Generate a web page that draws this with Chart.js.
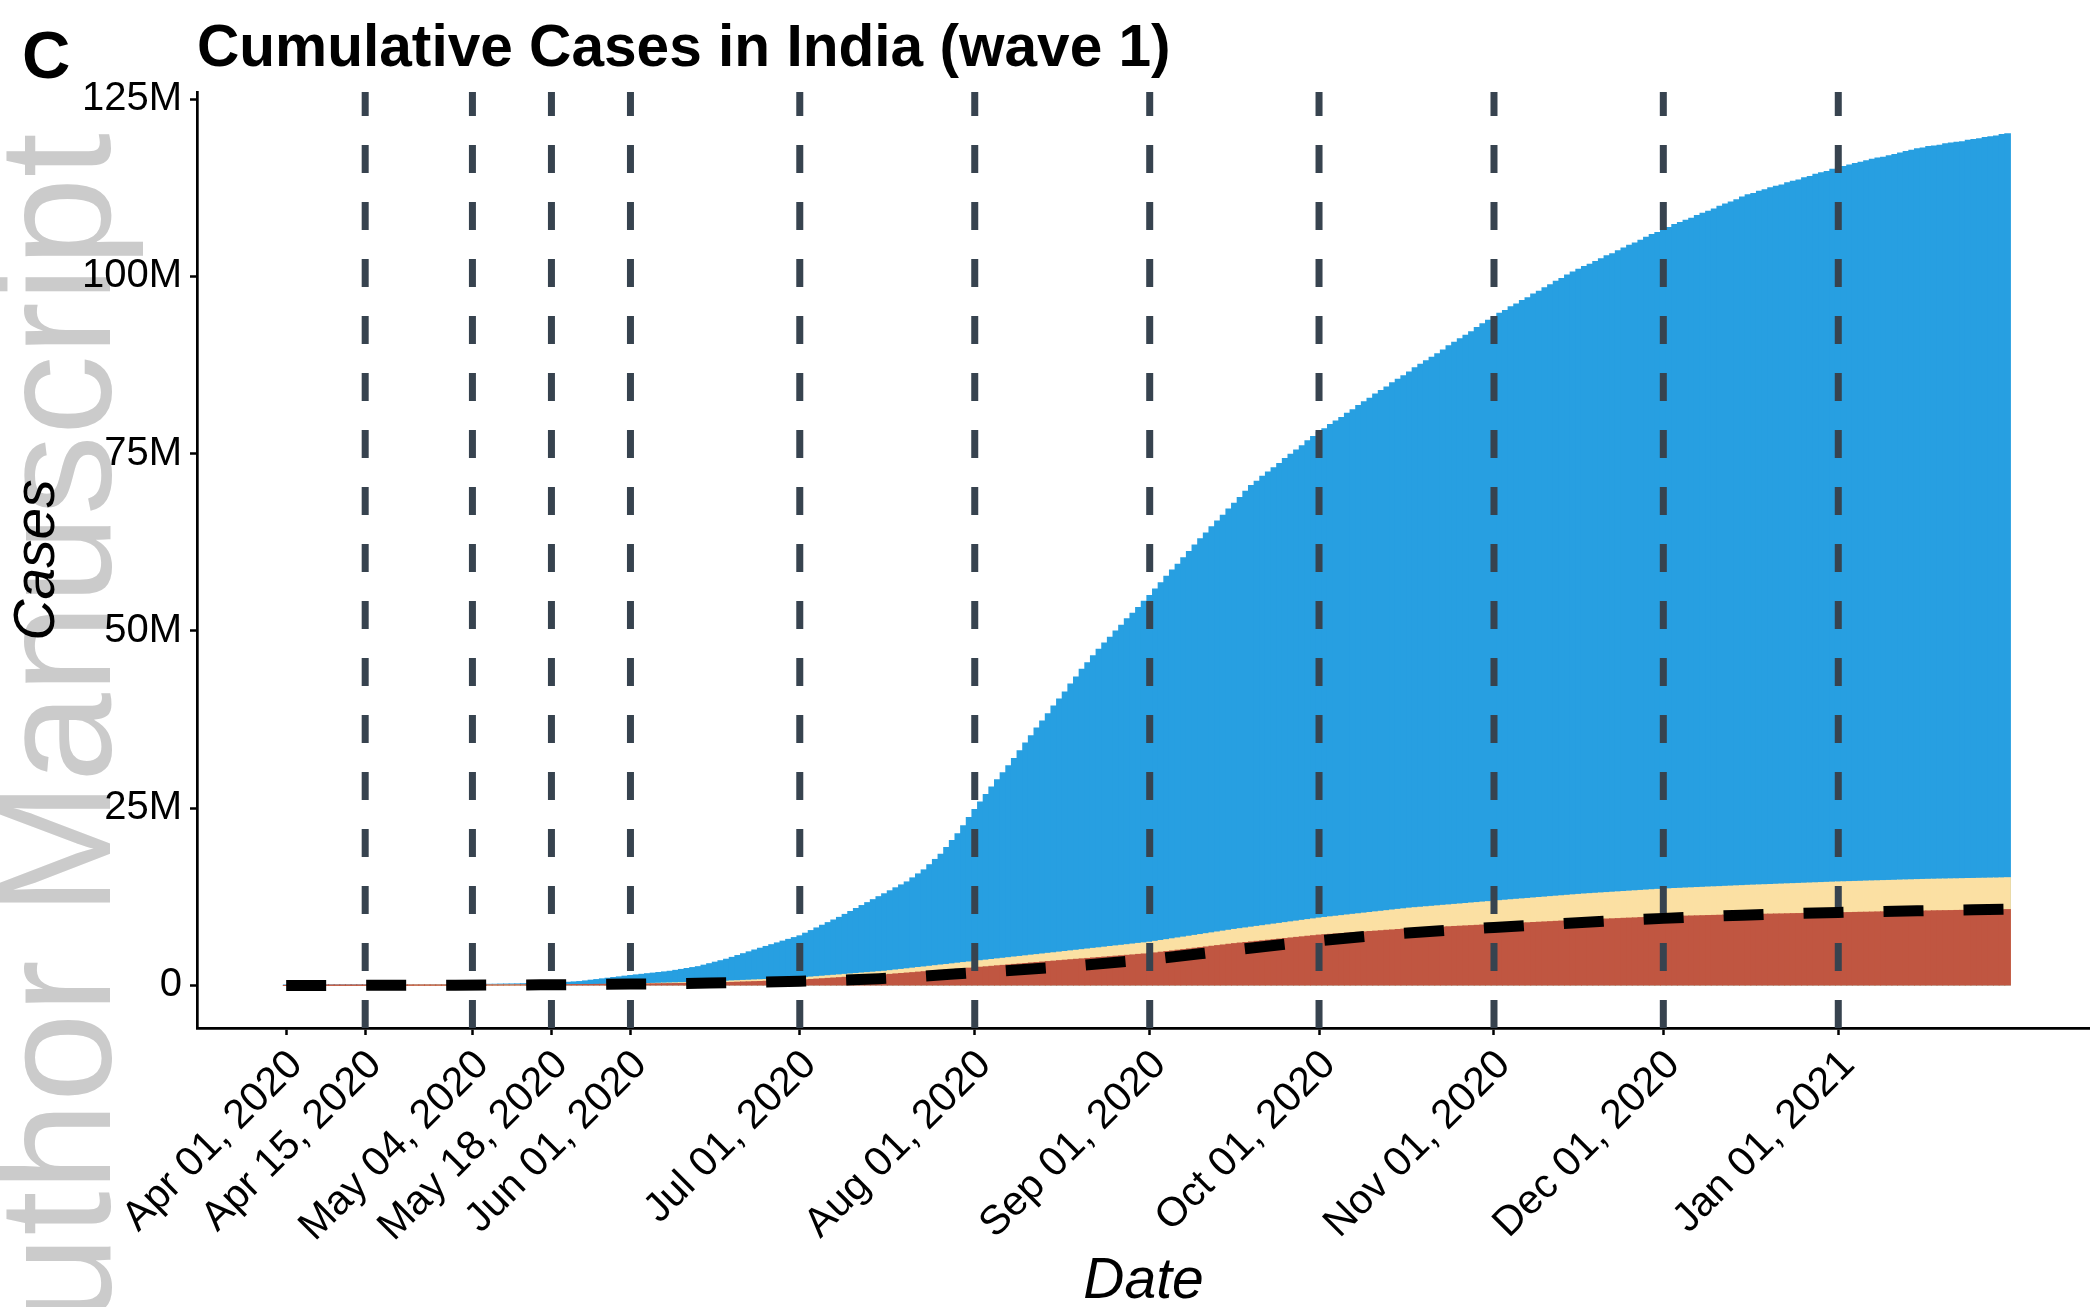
<!DOCTYPE html>
<html>
<head>
<meta charset="utf-8">
<title>Cumulative Cases in India (wave 1)</title>
<script src="https://cdn.jsdelivr.net/npm/chart.js@4.4.1/dist/chart.umd.min.js"></script>
<style>
	html, body { margin: 0; padding: 0; background: #fff; }
	#chart-wrap { width: 2090px; height: 1307px; }
</style>
</head>
<body>
<div id="chart-wrap"><canvas id="cases-chart" width="2090" height="1307"></canvas></div>
<script>
// one bar per day, day 0 = Apr 01 2020 ... day 305 = Jan 31 2021, values in millions
var totalCases = [
	0.01,0.01,0.01,0.01,0.01,0.02,0.02,0.02,0.02,0.02,0.02,0.03,0.03,0.03,
	0.03,0.04,0.04,0.04,0.05,0.05,0.06,0.06,0.07,0.07,0.08,0.08,0.09,0.09,0.10,0.10,0.11,0.11,0.12,
	0.12,0.13,0.15,0.16,0.17,0.19,0.20,0.21,0.22,0.24,0.25,0.26,0.28,0.29,
	0.30,0.35,0.40,0.45,0.50,
	0.55,0.64,0.74,0.83,0.93,1.02,1.12,1.21,1.31,
	1.40,1.49,1.57,1.66,1.74,1.83,1.91,
	2.00,2.13,2.26,2.39,2.52,
	2.65,2.86,3.07,3.28,3.49,
	3.70,3.96,4.22,4.48,4.74,
	5.00,5.25,5.50,5.75,
	6.00,6.25,6.50,6.75,
	7.00,7.37,7.74,8.11,8.49,8.86,9.23,
	9.60,10.02,10.43,10.85,11.27,11.68,
	12.10,12.52,12.93,13.35,13.77,14.18,
	14.60,15.17,15.73,
	16.30,17.03,17.77,
	18.50,19.47,20.43,
	21.40,22.53,23.67,
	24.80,25.87,26.93,
	28.0,29.0,30.0,31.0,
	32.0,33.1,34.2,35.2,
	36.3,37.3,38.3,39.4,40.4,
	41.4,42.5,43.5,
	44.6,45.5,46.5,47.4,
	48.3,49.1,50.0,50.8,51.7,52.5,53.3,54.2,
	55.0,55.9,56.8,57.7,58.6,59.4,60.3,61.2,62.1,
	63.0,63.8,64.7,65.5,66.3,67.2,68.0,68.8,69.7,
	70.5,71.1,71.8,72.4,73.0,73.6,74.3,74.9,75.5,76.1,76.8,77.4,
	78.0,78.5,79.1,79.6,80.1,80.7,81.2,81.8,82.3,82.8,83.4,83.9,84.4,85.0,
	85.5,86.0,86.5,87.1,87.6,88.1,88.6,89.1,89.6,90.2,90.7,91.2,91.7,92.2,92.8,93.3,93.8,
	94.3,94.8,95.2,95.7,96.1,96.6,97.0,97.5,97.9,98.4,98.8,99.3,99.7,100.2,
	100.6,101.0,101.4,101.7,102.1,102.5,102.9,103.2,103.6,104.0,104.4,104.7,105.1,105.5,105.9,106.2,
	106.6,106.9,107.3,107.6,107.9,108.2,108.6,108.9,109.2,109.5,109.9,110.2,110.5,110.8,111.2,
	111.5,111.7,112.0,112.2,112.5,112.7,112.9,113.2,113.4,113.6,113.9,114.1,114.4,114.6,114.8,115.1,
	115.3,115.5,115.7,115.9,116.1,116.3,116.5,116.7,116.8,117.0,117.2,117.4,117.6,117.8,
	118.0,118.1,118.3,118.4,118.5,118.7,118.8,118.9,119.0,119.2,119.3,119.4,119.6,119.7,119.8,120.0,120.1
];

var symptomCases = [
	0,0,0,0,0,0,0,0,0,0,0,0,0,0,0,0,0,0,0,0,
	0.01,0.01,0.01,0.01,0.01,0.01,0.01,0.01,0.01,0.01,0.01,0.01,0.01,
	0.01,0.01,0.01,0.02,0.02,0.02,0.02,0.03,0.03,0.03,0.03,0.03,0.04,0.04,
	0.04,0.05,0.06,0.08,0.09,0.10,0.11,0.12,0.13,0.14,0.15,0.17,0.18,0.19,
	0.20,0.22,0.24,0.26,0.29,0.31,0.33,0.35,0.37,0.39,0.41,0.44,0.46,0.48,
	0.50,0.53,0.57,0.60,0.64,0.67,0.71,0.74,0.78,0.81,0.84,0.88,0.91,0.95,0.98,1.02,
	1.05,1.11,1.18,1.24,1.30,1.37,1.43,1.49,1.56,1.62,1.68,1.75,1.81,1.87,1.94,
	2.00,2.09,2.18,2.26,2.35,2.44,2.53,2.61,2.70,2.79,2.88,2.96,3.05,3.14,3.23,3.31,
	3.40,3.49,3.57,3.66,3.75,3.83,3.92,4.01,4.09,4.18,4.27,4.35,4.44,4.53,4.61,
	4.70,4.79,4.88,4.96,5.05,5.14,5.23,5.31,5.40,5.49,5.58,5.66,5.75,5.84,5.93,6.01,
	6.10,6.22,6.34,6.46,6.58,6.70,6.82,6.94,7.06,7.18,7.30,7.42,7.54,7.66,7.78,
	7.90,8.01,8.11,8.22,8.33,8.43,8.54,8.65,8.75,8.86,8.97,9.07,9.18,9.29,9.39,
	9.50,9.59,9.68,9.76,9.85,9.94,10.03,10.11,10.20,10.29,10.38,10.46,10.55,10.64,10.73,10.81,
	10.90,10.97,11.03,11.10,11.16,11.23,11.30,11.36,11.43,11.49,11.56,11.63,11.69,11.76,11.82,11.89,
	11.96,12.02,12.09,12.15,12.21,12.27,12.34,12.40,12.46,12.53,12.59,12.65,12.71,12.78,12.84,
	12.90,12.95,13.00,13.05,13.10,13.15,13.20,13.25,13.30,13.35,13.40,13.45,13.50,13.55,
	13.60,13.63,13.67,13.70,13.74,13.77,13.81,13.84,13.88,13.91,13.94,13.98,14.01,14.05,14.08,14.12,
	14.15,14.18,14.21,14.24,14.27,14.30,14.33,14.36,14.39,14.42,14.45,14.48,14.51,14.54,14.57,
	14.60,14.62,14.65,14.67,14.69,14.72,14.74,14.76,14.79,14.81,14.83,14.86,14.88,14.90,14.93,
	14.95,14.97,14.98,15.00,15.01,15.03,15.04,15.06,15.08,15.09,15.11,15.12,15.14,15.15,15.17,15.20
];

var confirmedBars = [
	0.00,0.00,0.00,0.01,0.01,0.01,0.01,0.01,0.01,0.01,0.01,0.01,0.01,0.01,
	0.01,0.01,0.01,0.02,0.02,0.02,0.02,0.02,0.02,0.03,0.03,0.03,0.03,0.03,0.03,0.03,
	0.04,0.04,0.04,0.05,0.05,0.05,0.06,0.06,0.06,0.07,0.07,0.08,0.08,0.08,0.09,0.09,0.10,
	0.10,0.11,0.11,0.12,0.13,0.13,0.14,0.14,0.15,0.16,0.16,0.17,0.18,0.18,
	0.19,0.20,0.21,0.22,0.23,0.24,0.25,0.26,0.27,0.28,0.29,0.30,0.31,0.32,
	0.33,0.36,0.38,0.41,0.43,0.46,0.49,0.51,0.54,0.56,0.59,0.62,0.64,0.67,0.69,0.72,
	0.75,0.80,0.85,0.90,0.95,1.00,1.05,1.10,1.15,1.20,1.25,1.30,1.35,1.40,1.45,
	1.50,1.56,1.63,1.69,1.75,1.81,1.88,1.94,2.00,2.06,2.13,2.19,2.25,2.31,2.38,2.44,
	2.50,2.57,2.63,2.70,2.77,2.83,2.90,2.97,3.03,3.10,3.17,3.23,3.30,3.37,3.43,
	3.50,3.56,3.63,3.69,3.75,3.81,3.88,3.94,4.00,4.06,4.13,4.19,4.25,4.31,4.38,4.44,
	4.50,4.59,4.69,4.78,4.87,4.97,5.06,5.15,5.25,5.34,5.43,5.53,5.62,5.71,5.81,
	5.90,5.98,6.06,6.14,6.22,6.30,6.38,6.46,6.54,6.62,6.70,6.78,6.86,6.94,7.02,
	7.10,7.16,7.21,7.27,7.33,7.38,7.44,7.49,7.55,7.61,7.66,7.72,7.78,7.83,7.89,7.94,
	8.00,8.04,8.08,8.12,8.16,8.20,8.24,8.28,8.32,8.36,8.40,8.44,8.48,8.52,8.56,
	8.60,8.64,8.68,8.72,8.76,8.80,8.84,8.88,8.92,8.96,9.00,9.04,9.08,9.12,9.16,
	9.20,9.23,9.27,9.30,9.33,9.37,9.40,9.43,9.47,9.50,9.53,9.57,9.60,9.63,9.67,
	9.70,9.72,9.74,9.76,9.78,9.80,9.82,9.84,9.86,9.88,9.90,9.92,9.94,9.96,9.98,
	10.00,10.02,10.03,10.05,10.06,10.08,10.09,10.11,10.13,10.14,10.16,10.17,10.19,10.20,10.22,10.23,
	10.25,10.27,10.28,10.30,10.32,10.33,10.35,10.37,10.38,10.40,10.42,10.43,10.45,10.47,10.48,
	10.50,10.51,10.53,10.54,10.55,10.56,10.58,10.59,10.60,10.61,10.63,10.64,10.65,10.66,10.68,10.70
];

// reported cumulative cases, dashed black line
var reportedDays = [0, 14, 30, 47, 61, 75, 91, 105, 122, 136, 153, 167, 183, 197, 214, 228, 244, 258, 275, 289, 305];
var reportedCases = [0.002, 0.012, 0.037, 0.10, 0.19, 0.33, 0.59, 0.96, 1.80, 2.55, 3.69, 4.93, 6.31, 7.31, 8.18, 8.81, 9.46, 9.91, 10.29, 10.53, 10.75];

var tickDays = [0, 14, 33, 47, 61, 91, 122, 153, 183, 214, 244, 275];
var tickLabels = ['Apr 01, 2020', 'Apr 15, 2020', 'May 04, 2020', 'May 18, 2020', 'Jun 01, 2020', 'Jul 01, 2020',
	'Aug 01, 2020', 'Sep 01, 2020', 'Oct 01, 2020', 'Nov 01, 2020', 'Dec 01, 2020', 'Jan 01, 2021'];
var eventDays = [14, 33, 47, 61, 91, 122, 153, 183, 214, 244, 275];
var yTicks = [0, 25, 50, 75, 100, 125];

var Y_MIN = -6, Y_MAX = 126;
var FONT = '"Liberation Sans", Arial, Helvetica, sans-serif';

// watermark behind everything, panel letter and title on top
var textPlugin = {
	id: 'pageText',
	beforeDraw: function (chart) {
		var ctx = chart.ctx;
		ctx.save();
		ctx.fillStyle = '#cbcbcb';
		ctx.font = '160px ' + FONT;
		ctx.textAlign = 'right';
		ctx.textBaseline = 'alphabetic';
		ctx.translate(110, 133);
		ctx.rotate(-Math.PI / 2);
		ctx.fillText('Author Manuscript', 0, 0);
		ctx.restore();
	},
	afterDraw: function (chart) {
		var ctx = chart.ctx;
		ctx.save();
		ctx.fillStyle = '#000';
		ctx.textAlign = 'left';
		ctx.textBaseline = 'alphabetic';
		ctx.font = 'bold 67px ' + FONT;
		ctx.fillText('C', 22, 78);
		ctx.font = 'bold 58.6px ' + FONT;
		ctx.fillText('Cumulative Cases in India (wave 1)', 197, 66);
		ctx.restore();
	}
};

function barSetting(values, color, order) {
	var points = [];
	for (var i = 0; i < values.length; i++) {
		points.push({x: i, y: values[i]});
	}
	return {
		type: 'bar',
		data: points,
		backgroundColor: color,
		borderWidth: 0,
		barPercentage: 1,
		categoryPercentage: 1,
		inflateAmount: 0.5,
		grouped: false,
		order: order
	};
}

function chartOptions() {
	var axisGrid = {display: true, drawOnChartArea: false, drawTicks: true, tickLength: 7, tickWidth: 2.5, tickColor: '#000', offset: false};
	var axisBorder = {display: true, color: '#000', width: 2.7};
	return {
		responsive: false,
		animation: false,
		devicePixelRatio: 1,
		layout: {padding: {top: 92, left: 0, right: 0, bottom: 0}},
		plugins: {legend: {display: false}, tooltip: {enabled: false}, title: {display: false}},
		scales: {
			x: {
				type: 'linear',
				min: -15.8,
				max: 319.6,
				offset: false,
				grid: axisGrid,
				border: axisBorder,
				afterBuildTicks: function (scale) {
					scale.ticks = tickDays.map(function (d) { return {value: d}; });
				},
				afterFit: function (scale) { scale.height = 279; },
				ticks: {
					autoSkip: false,
					minRotation: 45,
					maxRotation: 45,
					padding: 6,
					labelOffset: 10,
					color: '#000',
					font: {family: FONT, size: 41},
					callback: function (value, index) { return tickLabels[index]; }
				},
				title: {
					display: true,
					text: 'Date',
					color: '#000',
					font: {family: FONT, size: 57, style: 'italic', lineHeight: 0.6},
					padding: {top: 0, bottom: 8}
				}
			},
			y: {
				type: 'linear',
				min: Y_MIN,
				max: Y_MAX,
				grid: axisGrid,
				border: axisBorder,
				afterBuildTicks: function (scale) {
					scale.ticks = yTicks.map(function (v) { return {value: v}; });
				},
				afterFit: function (scale) { scale.width = 197; },
				ticks: {
					padding: 8,
					color: '#000',
					font: {family: FONT, size: 40},
					callback: function (value) { return value === 0 ? '0' : value + 'M'; }
				},
				title: {
					display: true,
					text: 'Cases',
					color: '#000',
					font: {family: FONT, size: 57, style: 'italic', lineHeight: 1.2},
					padding: {top: 4, bottom: 0}
				}
			}
		}
	};
}

function chartBuilder() {
	var datasets = [];
	datasets.push(barSetting(totalCases, '#279fe1', 5));
	datasets.push(barSetting(symptomCases, '#fbe0a3', 4));
	datasets.push(barSetting(confirmedBars, '#c05641', 3));

	for (var i = 0; i < eventDays.length; i++) {
		datasets.push({
			type: 'line',
			data: [{x: eventDays[i], y: Y_MIN}, {x: eventDays[i], y: Y_MAX}],
			borderColor: '#37434f',
			borderWidth: 7,
			borderDash: [28, 29],
			borderCapStyle: 'butt',
			pointRadius: 0,
			order: 2
		});
	}

	var reported = [];
	for (var j = 0; j < reportedDays.length; j++) {
		reported.push({x: reportedDays[j], y: reportedCases[j]});
	}
	datasets.push({
		type: 'line',
		data: reported,
		borderColor: '#000',
		borderWidth: 11,
		borderDash: [40, 40],
		borderCapStyle: 'butt',
		cubicInterpolationMode: 'monotone',
		pointRadius: 0,
		order: 1
	});

	new Chart(document.getElementById('cases-chart'), {
		type: 'bar',
		data: {datasets: datasets},
		options: chartOptions(),
		plugins: [textPlugin]
	});
}

chartBuilder();
</script>
</body>
</html>
